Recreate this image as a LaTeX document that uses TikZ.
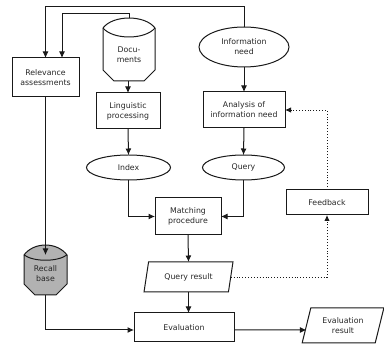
\documentclass[tikz,border=0pt]{standalone}
\usepackage{fontspec}
\setmainfont{DejaVu Sans}
\usetikzlibrary{arrows.meta,shapes.geometric,calc}

% Drum-shaped store: the node is the body, the cap is drawn above it;
% #3 sets how far the inner rim of the cap sags
\newcommand\dbcan[3]{%
  \filldraw[fill=#2] (#1.north west) .. controls +(10,-13.3) and +(-10,-13.3) .. (#1.north east)
    -- ($(#1.south east)+(0,-11)$) -- ($(#1.south east)+(-11,0)$)
    -- ($(#1.south west)+(11,0)$) -- ($(#1.south west)+(0,-11)$) -- cycle;
  \draw (#1.north west) .. controls +(10,#3) and +(-10,#3) .. (#1.north east);
}

\begin{document}
\begin{tikzpicture}[x=1pt,y=-1pt, line width=1pt, color=black!90,
  every node/.style={font=\fontsize{7.8}{10}\selectfont, text=black!85, align=center, inner sep=0pt, outer sep=0pt},
  box/.style={draw, rectangle},
  oval/.style={draw, ellipse},
  store/.style={rectangle},
  io/.style={draw, trapezium, trapezium left angle=70, trapezium right angle=110, trapezium stretches=true},
  arr/.style={-{Latex[length=6.5pt,width=6pt]}},
  fb/.style={dotted, line width=0.9pt, -{Latex[length=6pt,width=5.5pt]}}
]
\useasboundingbox (0,0) rectangle (384,347);

% left column
\node[box, minimum width=67, minimum height=39] (relev) at (45.5,77.5) {Relevance\\assessments};
\node[store, minimum width=43, minimum height=40] (recall) at (45.5,275) {};
\dbcan{recall}{black!30}{7}
\node at ($(recall)+(0,-1.5)$) {Recall\\base};

% document column
\node[store, minimum width=52, minimum height=53] (docs) at (129,54.5) {};
\dbcan{docs}{white}{12}
\node at (docs) {Docu-\\ments};
\node[box, minimum width=64, minimum height=36] (ling) at (128,111) {Linguistic\\processing};
\node[oval, minimum width=84, minimum height=25] (index) at (128.5,167.5) {Index};

% query column
\node[oval, minimum width=90, minimum height=40] (need) at (244,47) {Information\\need};
\node[box, minimum width=82, minimum height=36] (analysis) at (244,110) {Analysis of\\information need};
\node[oval, minimum width=82, minimum height=25] (query) at (243.5,167.5) {Query};

% middle
\node[box, minimum width=66, minimum height=37] (match) at (188,216.5) {Matching\\procedure};
\node[io, minimum width=89, minimum height=30] (qres) at (188.5,277) {Query result};
\node[box, minimum width=100, minimum height=29] (eval) at (184,327.5) {Evaluation};
\node[io, minimum width=82, minimum height=35, trapezium left angle=71, trapezium right angle=109] (evres) at (343,325.5) {Evaluation\\result};
\node[box, minimum width=82, minimum height=25] (feedback) at (327,202.5) {Feedback};

% connectors
\draw[arr] (need.north) -- ++(0,-20) -| (relev.north);
\draw[arr] (docs.north) ++(0,-10) -- ++(0,-4) -| ($(relev.north)+(16.5,0)$);
\draw[arr] ($(docs.south)+(-1,0)$) -- (ling.north);
\draw[arr] (ling.south) -- (index.north);
\draw[arr] (need.south) -- (analysis.north);
\draw[arr] (analysis.south) -- (query.north);
\draw[arr] (index.south) |- (match.west);
\draw[arr] (query.south) |- (match.east);
\draw[arr] (match.south) -- (qres.north);
\draw[arr] (qres.south) -- (qres.south |- eval.north);
\draw[arr] (relev.south) -- (recall.north);
\draw[arr] (recall.south) |- ($(eval.west)+(0,2.5)$);
\draw[arr] ($(eval.east)+(0,2.5)$) -- ($(evres.west)+(0,4.5)$);
\draw[fb] (qres.east) -| (feedback.south);
\draw[fb] (feedback.north) |- (analysis.east);
\end{tikzpicture}
\end{document}
